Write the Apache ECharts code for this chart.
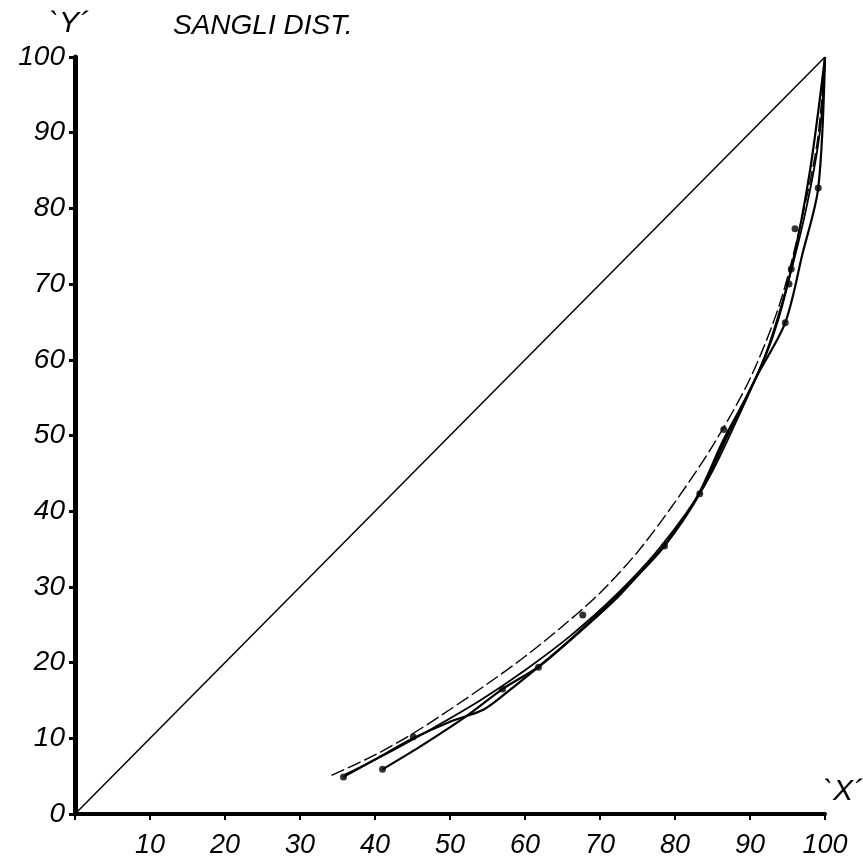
<!DOCTYPE html>
<html>
<head>
<meta charset="utf-8">
<title>Sangli Dist.</title>
<script src="https://cdn.jsdelivr.net/npm/echarts@6/dist/echarts.min.js"></script>
<style>
  html, body { margin: 0; padding: 0; background: #fff; }
  #chart { width: 863px; height: 862px; }
</style>
</head>
<body>
<div id="chart"></div>
<script>
// ticks on both axes
const tickValues = [0, 10, 20, 30, 40, 50, 60, 70, 80, 90, 100];

// line of equality
const equality = [[0, 0], [100, 100]];

// four hand drawn curves
const curve1 = [[34.2, 5.1], [40, 7.8], [45, 10.6], [50, 13.8], [55, 17.2], [60, 20.8], [65, 24.8], [70, 29.2],
  [75, 34.6], [80, 41.2], [85, 48.6], [90, 57.5], [94, 67.5], [97, 79], [99, 89], [100, 100]];
const curve2 = [[35.8, 4.9], [40, 7.2], [45.1, 10.0], [50, 12.2], [54.5, 13.8], [58, 16.4], [62, 19.6], [67, 23.8],
  [72, 28.3], [76, 32.6], [79, 36], [83, 42], [86.5, 49.5], [90, 56], [93, 63], [95.5, 72], [98, 85], [100, 100]];
const curve3 = [[41, 5.9], [46, 8.9], [52, 12.8], [57, 16.5], [62, 19.6], [68, 24.8], [74, 30.5], [78.6, 35.4],
  [83.3, 42.3], [87, 50], [91, 58], [94.7, 64.9], [97, 74], [99.1, 82.7], [100, 100]];
const curve4 = [[36, 5.2], [42, 8.2], [48, 11.5], [54, 15], [60, 19], [66, 23.5], [72, 28.8], [78, 35.2],
  [84, 43.5], [88, 51.5], [92, 60.5], [95, 70], [97.5, 80], [99.3, 90], [100, 100]];

// plotted points (dots)
const dots = [[35.8, 4.9], [41, 5.9], [45.1, 10.2], [57, 16.5], [61.8, 19.4], [67.7, 26.3], [78.6, 35.4],
  [83.3, 42.3], [86.5, 50.8], [94.7, 64.9], [95.2, 70], [95.5, 72], [96, 77.3], [99.1, 82.7]];

const font = "'Liberation Sans', Arial, sans-serif";

const chart = echarts.init(document.getElementById("chart"), null, { renderer: "canvas" });

function curve(data, width, type) {
  return {
    type: "line",
    data: data,
    smooth: 0.3,
    symbol: "none",
    lineStyle: { color: "#000", width: width, type: type || "solid" },
    z: 3
  };
}

const labelStyle = { fontFamily: font, fontStyle: "italic", fontWeight: "normal", color: "#000" };

const option = {
  backgroundColor: "#fff",
  animation: false,
  title: [
    {
      text: "SANGLI DIST.",
      left: 168,
      top: 7,
      textStyle: Object.assign({ fontSize: 28 }, labelStyle)
    },
    {
      text: "`Y´",
      left: 44,
      top: 4,
      textStyle: Object.assign({ fontSize: 30 }, labelStyle)
    },
    {
      text: "`X´",
      left: 818,
      top: 772,
      textStyle: Object.assign({ fontSize: 30 }, labelStyle)
    }
  ],
  grid: { left: 75, right: 38, top: 57, bottom: 48 },
  xAxis: {
    type: "value",
    min: 0,
    max: 100,
    interval: 10,
    splitLine: { show: false },
    axisLine: { lineStyle: { color: "#000", width: 4 } },
    axisTick: { show: true, length: 6, lineStyle: { color: "#000", width: 2 } },
    axisLabel: Object.assign({
      margin: 18,
      fontSize: 27,
      formatter: v => (v === 0 ? "" : String(v))
    }, labelStyle)
  },
  yAxis: {
    type: "value",
    min: 0,
    max: 100,
    interval: 10,
    splitLine: { show: false },
    axisLine: { lineStyle: { color: "#000", width: 5 } },
    axisTick: { show: true, length: 6, lineStyle: { color: "#000", width: 3 } },
    axisLabel: Object.assign({
      margin: 10,
      fontSize: 28,
      customValues: tickValues
    }, labelStyle)
  },
  series: [
    {
      type: "line",
      data: equality,
      symbol: "none",
      lineStyle: { color: "#000", width: 1.5 },
      z: 2
    },
    curve(curve1, 1.4, [14, 4]),
    curve(curve2, 2.2),
    curve(curve3, 2.2),
    curve(curve4, 1.8),
    {
      type: "scatter",
      data: dots,
      symbol: "circle",
      symbolSize: 7,
      itemStyle: { color: "#000" },
      z: 4
    }
  ]
};

chart.setOption(option);
</script>
</body>
</html>
